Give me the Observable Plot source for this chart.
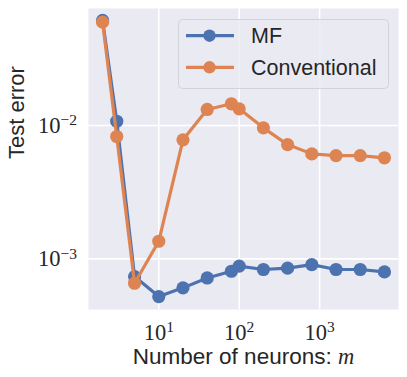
<!DOCTYPE html>
<html><head><meta charset="utf-8">
<script src="https://cdn.jsdelivr.net/npm/d3@7"></script>
<script src="https://cdn.jsdelivr.net/npm/@observablehq/plot@0.6"></script>
<style>
body{margin:0;background:#fff;}
#wrap{position:relative;width:407px;height:377px;}
#legend{position:absolute;left:178px;top:19px;}
</style></head><body><div id="wrap"></div>
<script>
// ---- data ----
const m = [2, 3, 5, 10, 20, 40, 80, 100, 200, 400, 800, 1600, 3200, 6400];
const mfError = [0.0614, 0.01077, 0.000736, 0.000521, 0.000606, 0.000719, 0.000807, 0.000881, 0.000832, 0.000851, 0.000906, 0.000832, 0.000832, 0.000798];
const convError = [0.0596, 0.00827, 0.000656, 0.001355, 0.00781, 0.0132, 0.01456, 0.01334, 0.00961, 0.0072, 0.00613, 0.00595, 0.00595, 0.00573];
const seriesNames = ["MF", "Conventional"];
const seriesColors = ["#4c72b0", "#dd8452"];
const xTicks = [10, 100, 1000];
const yTicks = [0.001, 0.01];
const xLabel = "Number of neurons: ";
const xLabelMath = "m";
const yLabel = "Test error";

const seriesValues = [mfError, convError];
const rows = seriesNames.map((name, s) => m.map((v, i) => ({m: v, err: seriesValues[s][i], series: name})));

const textColor = "#262626";
const serif = "'Liberation Serif', 'DejaVu Serif', serif";
const sans = "'Liberation Sans', Arial, sans-serif";

const seriesMarks = rows.flatMap((data, s) => [
  Plot.line(data, {x: "m", y: "err", stroke: seriesColors[s], strokeWidth: 3.2}),
  Plot.dot(data, {x: "m", y: "err", fill: seriesColors[s], r: 6.6, stroke: "none"})
]);

const chart = Plot.plot({
  width: 407, height: 377,
  marginLeft: 88, marginRight: 9, marginTop: 8, marginBottom: 68,
  style: {background: "white", color: textColor, overflow: "visible"},
  x: {type: "log", domain: [Math.pow(10, 0.126), Math.pow(10, 3.981)], axis: null},
  y: {type: "log", domain: [4.17e-4, 0.0755], axis: null},
  marks: [
    Plot.frame({fill: "#eaeaf2", stroke: "none"}),
    Plot.ruleX(xTicks, {stroke: "white", strokeWidth: 1.6}),
    Plot.ruleY(yTicks, {stroke: "white", strokeWidth: 1.6}),
    Plot.axisX(xTicks, {tickSize: 0, tickPadding: 14.5, fontSize: 22.5, fontFamily: serif, label: null,
      tickFormat: d => String(Math.round(Math.log10(d)))}),
    Plot.axisY(yTicks, {tickSize: 0, tickPadding: 11.5, fontSize: 22.5, fontFamily: serif, label: null,
      tickFormat: d => String(Math.round(Math.log10(d)))}),
    ...seriesMarks,
    Plot.text([yLabel], {frameAnchor: "left", rotate: -90, dx: -71.5, fontSize: 22, fontFamily: sans, fill: textColor}),
    Plot.text([xLabel], {frameAnchor: "bottom", lineAnchor: "top", dy: 39, fontSize: 22.5, fontFamily: sans, fill: textColor})
  ]
});

// superscript exponents on tick labels
d3.select(chart).selectAll('g[aria-label="x-axis tick label"] text, g[aria-label="y-axis tick label"] text').each(function() {
  const t = d3.select(this);
  const exp = t.text().replace("-", "\u2212").replace("\u2212\u2212", "\u2212");
  t.text(null);
  t.append("tspan").text("10");
  t.append("tspan").attr("dy", -7.5).attr("font-size", 15.5).text(exp);
});
// italic math m in the x label
d3.select(chart).selectAll("text").filter(function() { return this.textContent === xLabel; })
  .append("tspan").attr("font-family", serif).attr("font-style", "italic").text(xLabelMath);

const wrap = document.getElementById("wrap");
wrap.appendChild(chart);

// legend (matplotlib-style box inside the axes)
const lw = 211, lh = 70;
const leg = d3.select(wrap).append("svg").attr("id", "legend").attr("width", lw).attr("height", lh);
leg.append("rect").attr("x", 0.5).attr("y", 0.5).attr("width", lw - 1).attr("height", lh - 1).attr("rx", 4)
  .attr("fill", "#eaeaf2").attr("fill-opacity", 0.8).attr("stroke", "#d2d2d9");
seriesNames.forEach((name, i) => {
  const cy = 16.7 + i * 31.6;
  const g = leg.append("g");
  g.append("line").attr("x1", 8).attr("x2", 56).attr("y1", cy).attr("y2", cy)
    .attr("stroke", seriesColors[i]).attr("stroke-width", 3.2);
  g.append("circle").attr("cx", 31.5).attr("cy", cy).attr("r", 6.2).attr("fill", seriesColors[i]);
  g.append("text").attr("x", 73).attr("y", cy + 7.3).attr("font-family", sans).attr("font-size", 21.5)
    .attr("fill", textColor).text(name);
});
</script></body></html>
